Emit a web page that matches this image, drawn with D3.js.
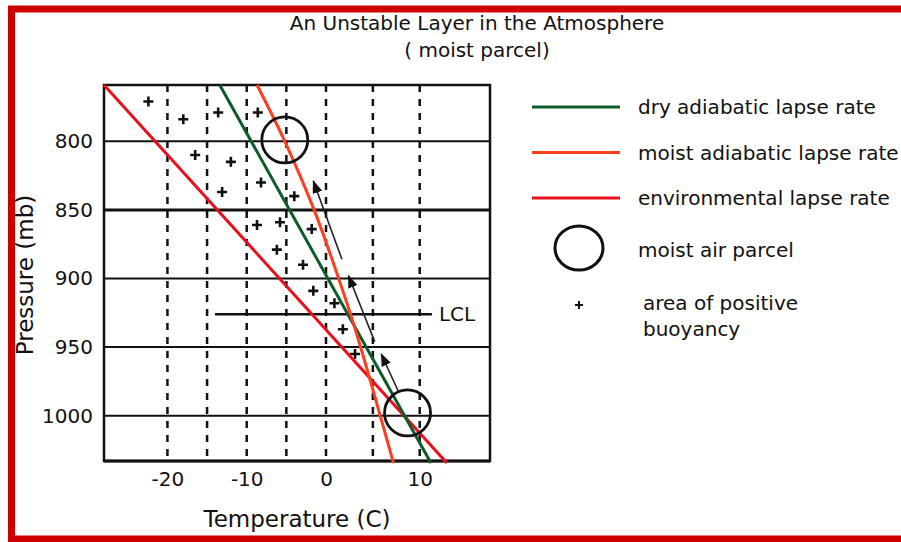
<!DOCTYPE html>
<html>
<head>
<meta charset="utf-8">
<script src="https://cdn.jsdelivr.net/npm/d3@7"></script>
<style>
  body { margin: 0; background: #fff; }
  svg { display: block; font-family: "DejaVu Sans", sans-serif; }
</style>
</head>
<body>
<div id="chart"></div>
<script>
// chart values (temperature C, pressure mb)
var pressureTicks = [800, 850, 900, 950, 1000];
var tempTicks = [-20, -10, 0, 10];
var tempGrid = [-20, -15, -10, -5, 0, 5, 10];

var envLine = [[-28, 759], [12.9, 1034.5]];
var dryLine = [[-13.4, 759], [11.2, 1034.5]];
var moistLine = [[-8.7, 759], [-5.2, 800], [-1.5, 850], [1.4, 901], [3.3, 941], [7.2, 1034.5]];

var lclPressure = 926;
var lclSpan = [-14, 11.3];

var parcels = [[-5.2, 799], [8.7, 998]];

var buoyancy = [
  [-22.4, 771], [-18.0, 784], [-13.6, 779], [-8.6, 779], [-16.5, 810],
  [-12.0, 815], [-8.2, 830], [-13.1, 837], [-4.0, 840], [-8.7, 861],
  [-5.8, 859], [-1.8, 864], [-6.2, 879], [-2.9, 890], [-1.6, 909],
  [0.9, 918], [1.8, 937], [3.1, 955]
];

// parcel motion arrows: [tail, tip]
var arrows = [
  [[1.7, 886], [-1.6, 829]],
  [[5.2, 946], [2.4, 898]],
  [[7.7, 982], [5.9, 955]]
];

var legendItems = ["dry adiabatic lapse rate", "moist adiabatic lapse rate", "environmental lapse rate"];

var colors = { dry: "#0f5a2b", moist: "#ff3d1f", env: "#e8101a" };

var W = 901, H = 542;

var svg = d3.select("#chart")
  .append("svg")
  .attr("width", W)
  .attr("height", H);

// red frame (cut at the right side)
svg.append("rect")
  .attr("x", 11.5).attr("y", 9)
  .attr("width", 1000).attr("height", 530)
  .attr("fill", "none")
  .attr("stroke", "#cc0000")
  .attr("stroke-width", 7);

// scales
var x = d3.scaleLinear().domain([-28, 0, 17.5]).range([104, 326, 490]);
var y = d3.scaleLinear().domain([759, 1033]).range([85, 461]);

var line = d3.line().x(function(d) { return x(d[0]); }).y(function(d) { return y(d[1]); });

// title
svg.append("text")
  .attr("x", 477).attr("y", 30)
  .attr("text-anchor", "middle")
  .style("font-size", "20px")
  .attr("fill", "#111")
  .text("An Unstable Layer in the Atmosphere");
svg.append("text")
  .attr("x", 477).attr("y", 57)
  .attr("text-anchor", "middle")
  .style("font-size", "20px")
  .attr("fill", "#111")
  .text("( moist parcel)");

// dashed temperature lines
svg.selectAll(".vgrid")
  .data(tempGrid).enter()
  .append("line")
  .attr("class", "vgrid")
  .attr("x1", function(d) { return x(d); })
  .attr("x2", function(d) { return x(d); })
  .attr("y1", y.range()[0])
  .attr("y2", y.range()[1])
  .attr("stroke", "#111")
  .attr("stroke-width", 2.5)
  .attr("stroke-dasharray", "7,7");

// pressure lines
svg.selectAll(".hgrid")
  .data(pressureTicks).enter()
  .append("line")
  .attr("class", "hgrid")
  .attr("x1", 104).attr("x2", 490)
  .attr("y1", function(d) { return y(d); })
  .attr("y2", function(d) { return y(d); })
  .attr("stroke", "#111")
  .attr("stroke-width", function(d) { return d == 850 ? 3 : 2; });

// frame of the plot
svg.append("rect")
  .attr("x", 104).attr("y", 85)
  .attr("width", 386).attr("height", 376)
  .attr("fill", "none")
  .attr("stroke", "#111")
  .attr("stroke-width", 2.5);
svg.append("line")
  .attr("x1", 104).attr("x2", 490)
  .attr("y1", 461).attr("y2", 461)
  .attr("stroke", "#111").attr("stroke-width", 3);

// axes
var yAxis = svg.append("g")
  .attr("transform", "translate(104,0)")
  .call(d3.axisLeft(y).tickValues(pressureTicks).tickSize(0).tickPadding(11)
    .tickFormat(function(d) { return String(d); }));
var xAxis = svg.append("g")
  .attr("transform", "translate(0,461)")
  .call(d3.axisBottom(x).tickValues(tempTicks).tickSize(0).tickPadding(11)
    .tickFormat(function(d) { return String(d); }));
[yAxis, xAxis].forEach(function(g) {
  g.select(".domain").remove();
  g.selectAll("text")
    .style("font-size", "20px")
    .style("font-family", "DejaVu Sans, sans-serif")
    .attr("fill", "#111");
});

// axis titles
svg.append("text")
  .attr("x", 297).attr("y", 527)
  .attr("text-anchor", "middle")
  .style("font-size", "23px")
  .attr("fill", "#111")
  .text("Temperature (C)");
svg.append("text")
  .attr("transform", "translate(33,275) rotate(-90)")
  .attr("text-anchor", "middle")
  .style("font-size", "23px")
  .attr("fill", "#111")
  .text("Pressure (mb)");

// positive buoyancy marks
svg.selectAll(".plus")
  .data(buoyancy).enter()
  .append("path")
  .attr("class", "plus")
  .attr("transform", function(d) { return "translate(" + x(d[0]) + "," + y(d[1]) + ")"; })
  .attr("d", "M-5,0H5M0,-5V5")
  .attr("stroke", "#111")
  .attr("stroke-width", 2.6);

// LCL
svg.append("line")
  .attr("x1", x(lclSpan[0])).attr("x2", x(lclSpan[1]))
  .attr("y1", y(lclPressure)).attr("y2", y(lclPressure))
  .attr("stroke", "#111").attr("stroke-width", 2.5);
svg.append("text")
  .attr("x", x(lclSpan[1]) + 7).attr("y", y(lclPressure) + 7)
  .style("font-size", "20px")
  .attr("fill", "#111")
  .text("LCL");

// lapse rate lines
svg.append("path").datum(envLine)
  .attr("d", line).attr("fill", "none")
  .attr("stroke", colors.env).attr("stroke-width", 3);
svg.append("path").datum(dryLine)
  .attr("d", line).attr("fill", "none")
  .attr("stroke", colors.dry).attr("stroke-width", 3);
svg.append("path").datum(moistLine)
  .attr("d", line.curve(d3.curveCatmullRom)).attr("fill", "none")
  .attr("stroke", colors.moist).attr("stroke-width", 3);

// arrowheads
svg.append("defs").append("marker")
  .attr("id", "head")
  .attr("markerUnits", "userSpaceOnUse")
  .attr("markerWidth", 14).attr("markerHeight", 10)
  .attr("refX", 12).attr("refY", 5)
  .attr("orient", "auto")
  .append("path")
  .attr("d", "M0,0L13,5L0,10z")
  .attr("fill", "#111");

svg.selectAll(".arrow")
  .data(arrows).enter()
  .append("line")
  .attr("class", "arrow")
  .attr("x1", function(d) { return x(d[0][0]); })
  .attr("y1", function(d) { return y(d[0][1]); })
  .attr("x2", function(d) { return x(d[1][0]); })
  .attr("y2", function(d) { return y(d[1][1]); })
  .attr("stroke", "#222")
  .attr("stroke-width", 1.6)
  .attr("marker-end", "url(#head)");

// air parcels
svg.selectAll(".parcel")
  .data(parcels).enter()
  .append("circle")
  .attr("class", "parcel")
  .attr("cx", function(d) { return x(d[0]); })
  .attr("cy", function(d) { return y(d[1]); })
  .attr("r", 23)
  .attr("fill", "none")
  .attr("stroke", "#111")
  .attr("stroke-width", 2.8);

// legend
var legendColors = [colors.dry, colors.moist, colors.env];
var legend = svg.append("g").attr("class", "legend");
legend.selectAll("line")
  .data(legendItems).enter()
  .append("line")
  .attr("x1", 532).attr("x2", 620)
  .attr("y1", function(d, i) { return 107 + i * 45.5; })
  .attr("y2", function(d, i) { return 107 + i * 45.5; })
  .attr("stroke", function(d, i) { return legendColors[i]; })
  .attr("stroke-width", 3.2);
legend.selectAll("text.item")
  .data(legendItems).enter()
  .append("text")
  .attr("class", "item")
  .attr("x", 638)
  .attr("y", function(d, i) { return 114 + i * 45.5; })
  .style("font-size", "20px")
  .attr("fill", "#111")
  .text(function(d) { return d; });

legend.append("ellipse")
  .attr("cx", 579).attr("cy", 248)
  .attr("rx", 24).attr("ry", 22)
  .attr("fill", "none")
  .attr("stroke", "#111")
  .attr("stroke-width", 3);
legend.append("text")
  .attr("x", 638).attr("y", 257)
  .style("font-size", "20px")
  .attr("fill", "#111")
  .text("moist air parcel");

legend.append("path")
  .attr("transform", "translate(579,305)")
  .attr("d", "M-4,0H4M0,-4V4")
  .attr("stroke", "#111")
  .attr("stroke-width", 2);
legend.append("text")
  .attr("x", 643).attr("y", 310)
  .style("font-size", "20px")
  .attr("fill", "#111")
  .text("area of positive");
legend.append("text")
  .attr("x", 643).attr("y", 336)
  .style("font-size", "20px")
  .attr("fill", "#111")
  .text("buoyancy");
</script>
</body>
</html>
